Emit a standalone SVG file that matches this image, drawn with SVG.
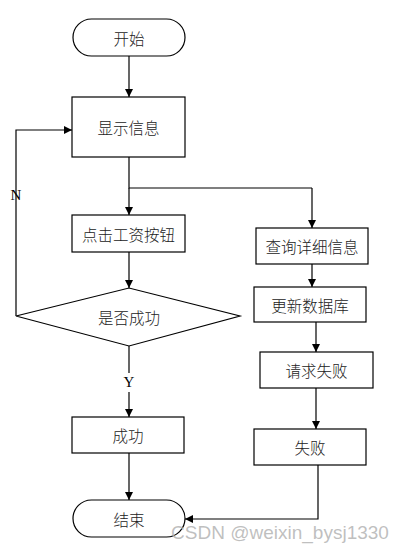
<svg xmlns="http://www.w3.org/2000/svg" width="403" height="552" viewBox="0 0 403 552">
<defs>
<marker id="arr" viewBox="0 0 10 10" refX="10" refY="5" markerWidth="8" markerHeight="8" markerUnits="userSpaceOnUse" orient="auto">
<path d="M0,0 L10,5 L0,10 z" fill="#000"/>
</marker>
<style>
.box{fill:#fff;stroke:#000;stroke-width:1.2}
.t{font-family:"Noto Sans CJK SC","Noto Sans",sans-serif;font-size:15.5px;font-weight:300;fill:#222;text-anchor:middle;dominant-baseline:central}
.l{font-family:"Liberation Serif",serif;font-size:15px;fill:#000;text-anchor:middle;dominant-baseline:central}
.c{fill:none;stroke:#000;stroke-width:1.2}
.ca{fill:none;stroke:#000;stroke-width:1.2;marker-end:url(#arr)}
</style>
</defs>
<rect width="403" height="552" fill="#fff"/>
<g id="connectors">
<path class="ca" d="M129,56 V97"/>
<path class="c" d="M129,157 V188 H312"/>
<path class="ca" d="M312,188 V228"/>
<path class="ca" d="M129,188 V215"/>
<path class="ca" d="M129,252 V288"/>
<path class="c" d="M129,346 V373"/>
<path class="ca" d="M129,392 V417"/>
<path class="ca" d="M129,453 V500"/>
<path class="ca" d="M16,316 V130 H72"/>
<path class="ca" d="M312,264 V287"/>
<path class="ca" d="M316,322 V352"/>
<path class="ca" d="M316,388 V429"/>
<path class="ca" d="M318,465 V519 H185"/>
<text class="l" x="16" y="195">N</text>
<text class="l" x="129" y="382">Y</text>
</g>
<g id="start"><rect class="box" x="73" y="19" width="112" height="37" rx="18.5"/><text class="t" x="129" y="37.5">开始</text></g>
<g id="show"><rect class="box" x="72" y="97" width="113" height="60"/><text class="t" x="128.5" y="127">显示信息</text></g>
<g id="click"><rect class="box" x="72" y="215" width="113" height="37"/><text class="t" x="128.5" y="233.5">点击工资按钮</text></g>
<g id="decision"><polygon class="box" points="16,316 129,288 240,316 129,346"/><text class="t" x="129" y="317">是否成功</text></g>
<g id="success"><rect class="box" x="72" y="417" width="112" height="36"/><text class="t" x="128" y="435">成功</text></g>
<g id="end"><rect class="box" x="73" y="500" width="112" height="37" rx="18.5"/><text class="t" x="129" y="518.5">结束</text></g>
<g id="query"><rect class="box" x="256" y="228" width="112" height="36"/><text class="t" x="312" y="246">查询详细信息</text></g>
<g id="update"><rect class="box" x="254" y="287" width="112" height="35"/><text class="t" x="310" y="304.5">更新数据库</text></g>
<g id="reqfail"><rect class="box" x="260" y="352" width="113" height="36"/><text class="t" x="316.5" y="370">请求失败</text></g>
<g id="fail"><rect class="box" x="254" y="429" width="112" height="36"/><text class="t" x="310" y="447">失败</text></g>
<text x="280" y="532" font-family="Liberation Sans,sans-serif" font-size="19" fill="#b4b4b4" fill-opacity="0.85" text-anchor="middle" dominant-baseline="central">CSDN @weixin_bysj1330</text>
</svg>
